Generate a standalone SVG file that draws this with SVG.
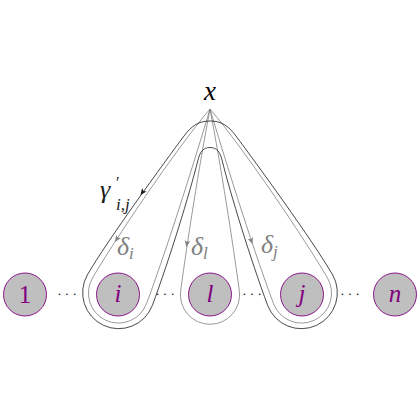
<svg xmlns="http://www.w3.org/2000/svg" xmlns:xlink="http://www.w3.org/1999/xlink" width="420" height="420" viewBox="0 0 420 420">
<style>
.node circle{fill:#bfbfbf;stroke:#800080;stroke-width:0.9}
.node text{fill:#800080;font-size:25px;text-anchor:middle}
.gl{fill:none;stroke:#808080;stroke-width:0.8}
.bl{fill:none;stroke:#1a1a1a;stroke-width:0.8}
.ga{fill:#808080}
.ba{fill:#1a1a1a}
.dots{font-size:13px;text-anchor:middle;fill:#000}
</style>
<defs>
<path id="ah" d="M0,0 L-6.5,-2.8 L-5,0 L-6.5,2.8 Z"/>
</defs>
<rect width="420" height="420" fill="#fff"/>
<g id="connectors">
<path id="delta-i" class="gl" d="M210,109 C175,150 112.5,243.4 92.5,278 A30,30 0 1 0 146.6,303.4 C170.9,237.7 197.1,152.1 210,109"/>
<path id="delta-l" class="gl" d="M210,109 C198.6,169 187.5,240.5 180.7,290.5 A29.6,29.6 0 1 0 239.3,290.5 C232.5,240.5 221.4,169 210,109"/>
<path id="delta-j" class="gl" d="M210,109 C222.9,152.1 249.1,237.7 273.4,303.4 A30,30 0 1 0 327.5,278 C307.5,243.4 245,150 210,109"/>
<path id="gamma" class="bl" d="M210,121 C198,121 191.2,126.4 184,136 C165,161.5 107.3,240.4 87.3,275 A36,36 0 1 0 152.3,305.5 C169.7,258.6 189.5,194 198,160 C199.9,152.2 203,147.5 210,147.5 C217,147.5 220.1,152.2 222,160 C230.5,194 250.3,258.6 267.7,305.5 A36,36 0 1 0 332.7,275 C312.7,240.4 255,161.5 236,136 C228.8,126.4 222,121 210,121 Z"/>
<use xlink:href="#ah" class="ga" transform="translate(115,242) rotate(123)"/>
<use xlink:href="#ah" class="ga" transform="translate(186.5,247) rotate(98)"/>
<use xlink:href="#ah" class="ga" transform="translate(252.5,244) rotate(70)"/>
<use xlink:href="#ah" class="ba" transform="translate(140.5,195) rotate(126)"/>
<g font-family="'Liberation Serif', 'Times New Roman', serif" font-style="italic">
<text x="100" y="198" font-size="26" fill="#1a1a1a">γ</text>
<text x="116" y="188" font-size="16" fill="#1a1a1a" font-style="normal">′</text>
<text x="116" y="210" font-size="17" fill="#1a1a1a">i,j</text>
<text x="117" y="255" font-size="26" fill="#808080">δ</text>
<text x="129" y="259" font-size="17" fill="#808080">i</text>
<text x="191" y="255" font-size="26" fill="#808080">δ</text>
<text x="203" y="259" font-size="17" fill="#808080">l</text>
<text x="261" y="253" font-size="26" fill="#808080">δ</text>
<text x="273" y="257" font-size="17" fill="#808080">j</text>
</g>
</g>
<g id="node-x">
<text x="210" y="100" font-size="27" text-anchor="middle" fill="#000" font-family="'Liberation Serif', serif" font-style="italic">x</text>
</g>
<g font-family="'Liberation Serif', serif">
<g id="node-1" class="node"><circle cx="25" cy="294.5" r="21.5"/><text x="25" y="303">1</text></g>
<g id="node-i" class="node"><circle cx="118" cy="294.5" r="21.5"/><text font-style="italic" x="118" y="302">i</text></g>
<g id="node-l" class="node"><circle cx="210" cy="294.5" r="21.5"/><text font-style="italic" x="210" y="302">l</text></g>
<g id="node-j" class="node"><circle cx="302" cy="294.5" r="21.5"/><text font-style="italic" x="302" y="302">j</text></g>
<g id="node-n" class="node"><circle cx="395" cy="294.5" r="21.5"/><text font-style="italic" x="395" y="302">n</text></g>
<g id="dots">
<text class="dots" x="67" y="298">· · ·</text>
<text class="dots" x="165" y="298">· · ·</text>
<text class="dots" x="252" y="298">· · ·</text>
<text class="dots" x="350" y="298">· · ·</text>
</g>
</g>
</svg>
